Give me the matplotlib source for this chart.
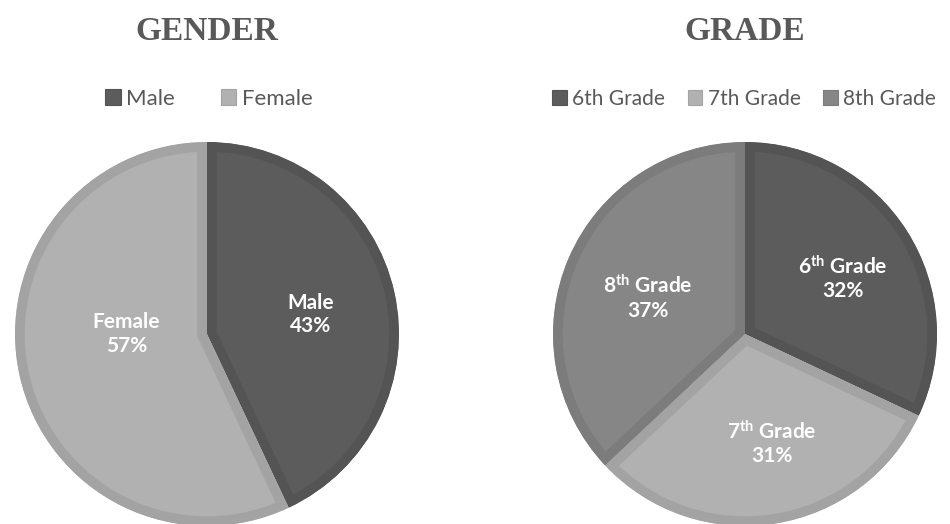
import matplotlib.pyplot as plt
from matplotlib.patches import Patch

# ---- DATA ----
gender_labels = ["Male", "Female"]
gender_values = [43, 57]

grade_labels = ["6th Grade", "7th Grade", "8th Grade"]
grade_inside = [r"6$^{\rm th}$ Grade", r"7$^{\rm th}$ Grade", r"8$^{\rm th}$ Grade"]
grade_values = [32, 31, 37]

# ---- STYLE ----
gender_fill = ["#5c5c5c", "#b1b1b1"]
gender_edge = ["#545454", "#a3a3a3"]
grade_fill = ["#5c5c5c", "#b1b1b1", "#868686"]
grade_edge = ["#545454", "#a3a3a3", "#7c7c7c"]

# label anchor offsets in radius units (Excel "best fit" positions)
gender_label_pos = [(0.54, 0.10), (-0.42, 0.0)]
grade_label_pos = [(0.51, 0.29), (0.14, -0.57), (-0.505, 0.19)]

TXT = "#595959"
plt.rcParams["font.family"] = ["Lato", "DejaVu Sans"]
plt.rcParams["mathtext.fontset"] = "custom"
plt.rcParams["mathtext.rm"] = "Lato:bold"
plt.rcParams["mathtext.it"] = "Lato:bold"
plt.rcParams["mathtext.bf"] = "Lato:bold"

W, H = 950, 524
fig = plt.figure(figsize=(W / 100, H / 100), dpi=100)

R = 192


def draw_pie(cx, cy, values, fills, edges, names, pos, title, legend_names,
             legend_x, colsp, legend_fs):
    ax = fig.add_axes([(cx - R) / W, (H - cy - R) / H, 2 * R / W, 2 * R / H])
    wedges, _ = ax.pie(values, colors=fills, startangle=90, counterclock=False,
                       wedgeprops=dict(linewidth=14))
    for w, ec in zip(wedges, edges):
        w.set_edgecolor(ec)
        w.set_clip_on(True)
        w.set_clip_path(w)  # keep border inside each slice
    ax.set_xlim(-1, 1)
    ax.set_ylim(-1, 1)
    ax.set_aspect("equal")
    ax.axis("off")
    for name, v, (px, py) in zip(names, values, pos):
        ax.text(px, py, f"{name}\n{v}%", ha="center", va="center",
                color="white", fontsize=15, fontweight="bold", linespacing=1.2)

    fig.text(cx / W, 1 - 32 / H, title, ha="center", va="center",
             fontsize=24, fontweight="bold", color=TXT,
             family=["Liberation Serif", "DejaVu Serif"])

    handles = [Patch(facecolor=f, edgecolor=e, linewidth=0.8) for f, e in zip(fills, edges)]
    fig.legend(handles, legend_names, loc="center", bbox_to_anchor=(legend_x / W, 1 - 99 / H),
               ncol=len(handles), frameon=False, fontsize=legend_fs, labelcolor=TXT,
               handlelength=0.7, handleheight=0.7, handletextpad=0.25,
               columnspacing=colsp, borderpad=0, borderaxespad=0)


draw_pie(207, 334, gender_values, gender_fill, gender_edge, gender_labels,
         gender_label_pos, "GENDER", gender_labels, 209, 2.05, 16)
draw_pie(745, 334, grade_values, grade_fill, grade_edge, grade_inside,
         grade_label_pos, "GRADE", grade_labels, 744, 1.1, 15)

fig.savefig("out.png", dpi=100)
